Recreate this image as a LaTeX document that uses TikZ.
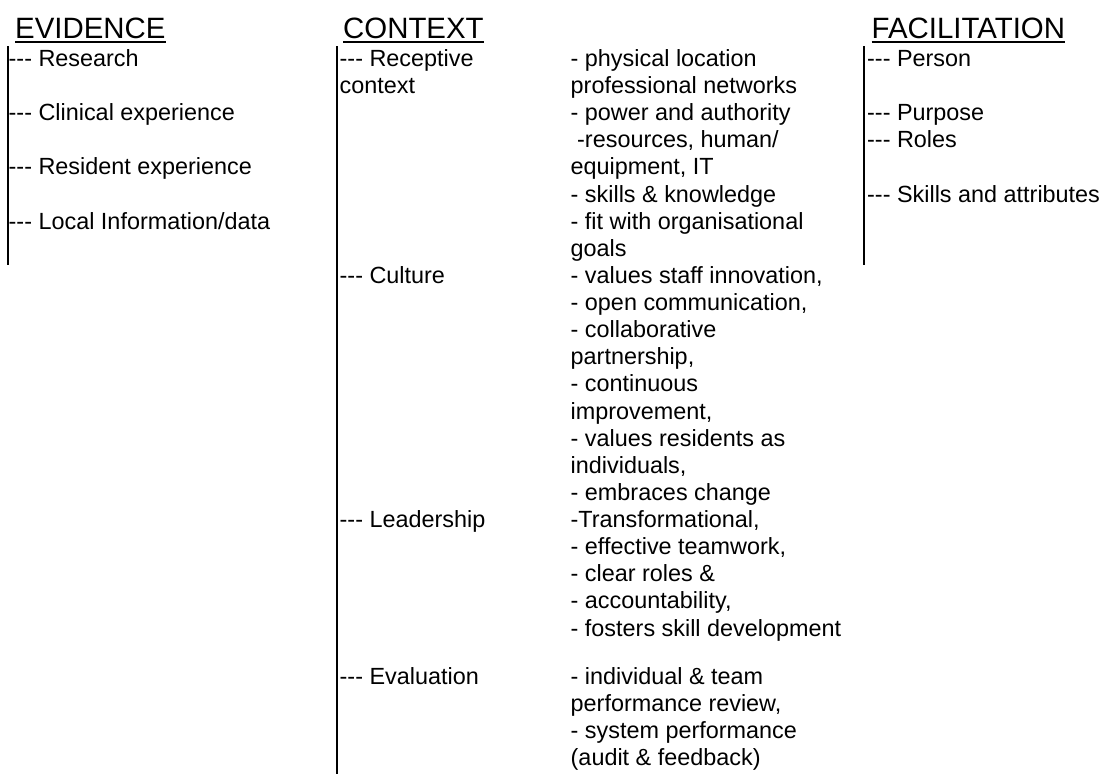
\documentclass[tikz,border=0pt]{standalone}
\usepackage{fontspec}
\setmainfont{Liberation Sans}

\def\ux{1pt}
\def\uy{-1pt}
\def\bl{66.5}   % first baseline
\def\lh{27.12}  % line height
\def\ev{684}    % baseline of the evaluation block

\begin{document}
\begin{tikzpicture}[x=\ux,y=\uy,
    item/.style={anchor=base west,inner sep=0pt,font=\fontsize{23.4}{27}\selectfont},
    head/.style={anchor=base west,inner sep=0pt,font=\fontsize{29.4}{34}\selectfont},
    uline/.style={line width=2.2pt},
    bar/.style={line width=2pt}]
		\useasboundingbox (0,0) rectangle (1112,774);

		% headings
		\node[head] (evhead) at (15,38) {EVIDENCE};
		\node[head] (cxhead) at (343,38) {CONTEXT};
		\node[head] (fahead) at (871.5,38) {FACILITATION};
		\foreach \h in {evhead,cxhead,fahead}{
			\draw[uline] ([yshift=-3.8pt]\h.base west) -- ([yshift=-3.8pt]\h.base east);
		}

		% left borders
		\coordinate (evtop) at (7.5,46);
		\coordinate (evbot) at (7.5,265);
		\coordinate (cxtop) at (336.5,46);
		\coordinate (cxbot) at (336.5,774);
		\coordinate (fatop) at (863.5,46);
		\coordinate (fabot) at (863.5,265);
		\draw[bar] (evtop) -- (evbot);
		\draw[bar] (cxtop) -- (cxbot);
		\draw[bar] (fatop) -- (fabot);

		% evidence
		\foreach \n/\t in {1/Research, 3/Clinical experience, 5/Resident experience, 7/Local Information\slash data}{
			\node[item] (ev\n) at (8.5,{\bl+(\n-1)*\lh}) {-{}-{}- \t};
		}

		% context, first column
		\foreach \n/\t in {1/Receptive, 9/Culture, 18/Leadership}{
			\node[item] (cx\n) at (339.5,{\bl+(\n-1)*\lh}) {-{}-{}- \t};
		}
		\node[item] (cx2) at (339.5,{\bl+\lh}) {context};
		\node[item] (cx23) at (339.5,\ev) {-{}-{}- Evaluation};

		% context, second column
		\foreach \n/\t in {1/{- physical location},
				2/{professional networks},
				3/{- power and authority},
				4/{\ -resources, human/},
				5/{equipment, IT},
				6/{- skills \& knowledge},
				7/{- fit with organisational},
				8/{goals},
				9/{- values staff innovation,},
				10/{- open communication,},
				11/{- collaborative},
				12/{partnership,},
				13/{- continuous},
				14/{improvement,},
				15/{- values residents as},
				16/{individuals,},
				17/{- embraces change},
				18/{-Transformational,},
				19/{- effective teamwork,},
				20/{- clear roles \&},
				21/{- accountability,},
				22/{- fosters skill development}}{
			\node[item] (dt\n) at (570.5,{\bl+(\n-1)*\lh}) {\t};
		}
		\foreach \n/\t in {0/{- individual \& team},
				1/{performance review,},
				2/{- system performance},
				3/{(audit \& feedback)}}{
			\node[item] (ed\n) at (570.5,{\ev+\n*\lh}) {\t};
		}

		% facilitation
		\foreach \n/\t in {1/Person, 3/Purpose, 4/Roles, 6/Skills and attributes}{
			\node[item] (fa\n) at (867,{\bl+(\n-1)*\lh}) {-{}-{}- \t};
		}
\end{tikzpicture}
\end{document}
